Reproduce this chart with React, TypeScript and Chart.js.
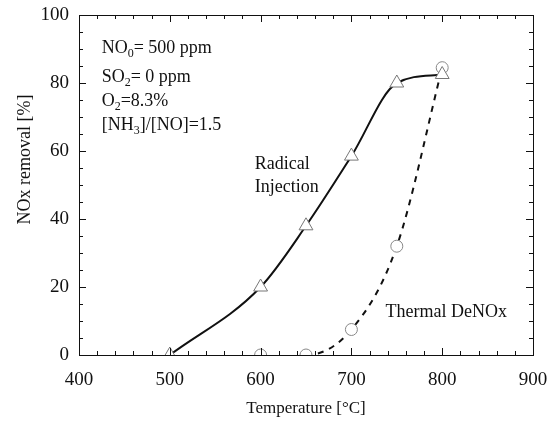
import React, { useEffect, useRef } from "react";
import { Chart, registerables } from "chart.js";

Chart.register(...registerables);

const temperatures = [500, 600, 650, 700, 750, 800];
const radicalInjection = [0, 20, 38, 58.5, 80, 82.5];
const thermalTemps = [600, 650, 700, 750, 800];
const thermalDeNOx = [0, 0, 7.5, 32, 84.5];

const xTickLabels = [400, 500, 600, 700, 800, 900];
const yTickLabels = [0, 20, 40, 60, 80, 100];

const FONT = "'Liberation Serif', 'DejaVu Serif', serif";

type Seg = { t: string; sub?: boolean };
const conditionLines: Seg[][] = [
  [{ t: "NO" }, { t: "0", sub: true }, { t: "= 500 ppm" }],
  [{ t: "SO" }, { t: "2", sub: true }, { t: "= 0 ppm" }],
  [{ t: "O" }, { t: "2", sub: true }, { t: "=8.3%" }],
  [{ t: "[NH" }, { t: "3", sub: true }, { t: "]/[NO]=1.5" }],
];

const frameAndLabels = {
  id: "frameAndLabels",
  afterDraw(chart: any) {
    const { ctx, chartArea: a, scales } = chart;
    const xs = scales.x;
    const ys = scales.y;
    ctx.save();
    ctx.strokeStyle = "#111";
    ctx.lineWidth = 1;
    ctx.strokeRect(a.left + 0.5, a.top + 0.5, a.right - a.left, a.bottom - a.top);
    ctx.beginPath();
    for (let v = 400; v <= 900; v += 20) {
      const px = Math.round(xs.getPixelForValue(v)) + 0.5;
      const len = v % 100 === 0 ? 7 : 4;
      ctx.moveTo(px, a.bottom);
      ctx.lineTo(px, a.bottom - len);
      ctx.moveTo(px, a.top);
      ctx.lineTo(px, a.top + len);
    }
    for (let v = 0; v <= 100; v += 5) {
      const py = Math.round(ys.getPixelForValue(v)) + 0.5;
      const len = v % 20 === 0 ? 7 : 4;
      ctx.moveTo(a.left, py);
      ctx.lineTo(a.left + len, py);
      ctx.moveTo(a.right, py);
      ctx.lineTo(a.right - len, py);
    }
    ctx.stroke();

    ctx.fillStyle = "#111";
    ctx.textBaseline = "alphabetic";
    ctx.textAlign = "left";
    const drawSegs = (segs: Seg[], x: number, y: number) => {
      let cx = x;
      for (const s of segs) {
        if (s.sub) {
          ctx.font = `12px ${FONT}`;
          ctx.fillText(s.t, cx, y + 4);
        } else {
          ctx.font = `18px ${FONT}`;
          ctx.fillText(s.t, cx, y);
        }
        cx += ctx.measureText(s.t).width;
      }
    };
    const x0 = xs.getPixelForValue(425);
    const yVals = [88.8, 80.3, 73.2, 66.2];
    conditionLines.forEach((l, i) => drawSegs(l, x0, ys.getPixelForValue(yVals[i])));

    ctx.font = `18px ${FONT}`;
    ctx.fillText("Radical", xs.getPixelForValue(593.5), ys.getPixelForValue(54.7));
    ctx.fillText("Injection", xs.getPixelForValue(593.5), ys.getPixelForValue(47.9));
    ctx.fillText("Thermal DeNOx", xs.getPixelForValue(737.5), ys.getPixelForValue(11.3));

    // y axis title
    ctx.save();
    ctx.translate(30, ys.getPixelForValue(57.5));
    ctx.rotate(-Math.PI / 2);
    ctx.textAlign = "center";
    ctx.font = `18px ${FONT}`;
    ctx.fillText("NOx removal [%]", 0, 0);
    ctx.restore();
    ctx.restore();
  },
};

export default function App() {
  const ref = useRef<HTMLCanvasElement>(null);
  useEffect(() => {
    const chart = new Chart(ref.current!, {
      type: "scatter",
      data: {
        datasets: [
          {
            label: "Radical Injection",
            data: temperatures.map((t, i) => ({ x: t, y: radicalInjection[i] })),
            showLine: true,
            borderColor: "#111",
            borderWidth: 2,
            cubicInterpolationMode: "monotone",
            pointStyle: "triangle",
            pointRadius: 8,
            pointBorderColor: "#777",
            pointBackgroundColor: "#fff",
            pointBorderWidth: 1,
            order: 1,
          } as any,
          {
            label: "Thermal DeNOx",
            data: thermalTemps.map((t, i) => ({ x: t, y: thermalDeNOx[i] })),
            showLine: true,
            borderColor: "#111",
            borderWidth: 2,
            borderDash: [6, 6],
            cubicInterpolationMode: "monotone",
            segment: {
              borderColor: (c: any) => (c.p0DataIndex === 0 ? "rgba(0,0,0,0)" : "#111"),
            },
            pointStyle: "circle",
            pointRadius: 6,
            pointBorderColor: "#888",
            pointBackgroundColor: "#fff",
            pointBorderWidth: 1,
            order: 2,
          } as any,
        ],
      },
      options: {
        animation: false,
        responsive: false,
        layout: { padding: { top: 15, right: 21, left: 0, bottom: 0 } },
        plugins: { legend: { display: false }, tooltip: { enabled: false } },
        scales: {
          x: {
            type: "linear",
            min: 400,
            max: 900,
            afterBuildTicks: (s: any) => {
              s.ticks = xTickLabels.map((v) => ({ value: v }));
            },
            afterFit: (s: any) => {
              s.height = 68;
              s.paddingLeft = 0;
              s.paddingRight = 0;
            },
            grid: { display: false, drawTicks: false },
            border: { display: false },
            ticks: { color: "#111", font: { family: FONT, size: 19 }, padding: 14 },
            title: {
              display: true,
              text: "Temperature [°C]",
              color: "#111",
              font: { family: FONT, size: 17 },
              padding: { top: 4 },
            },
          },
          y: {
            type: "linear",
            min: 0,
            max: 100,
            afterBuildTicks: (s: any) => {
              s.ticks = yTickLabels.map((v) => ({ value: v }));
            },
            afterFit: (s: any) => {
              s.width = 79;
              s.paddingTop = 0;
              s.paddingBottom = 0;
            },
            grid: { display: false, drawTicks: false },
            border: { display: false },
            ticks: { color: "#111", font: { family: FONT, size: 19 }, padding: 10 },
            title: { display: false },
          },
        },
      },
      plugins: [frameAndLabels],
    });
    return () => chart.destroy();
  }, []);
  return (
    <div style={{ position: "fixed", left: 0, top: 0, width: 554, height: 423, background: "#fff" }}>
      <canvas ref={ref} width={554} height={423} style={{ width: 554, height: 423 }} />
    </div>
  );
}
